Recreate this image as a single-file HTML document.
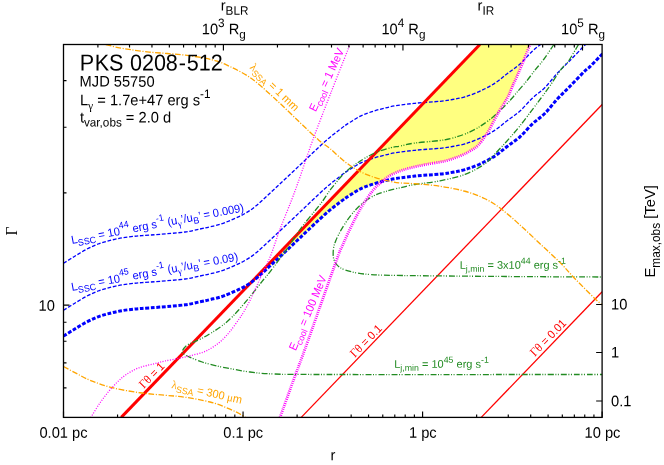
<!DOCTYPE html>
<html><head><meta charset="utf-8"><title>PKS 0208-512</title>
<style>
html,body{margin:0;padding:0;background:#fff;}
body{width:664px;height:465px;overflow:hidden;position:relative;font-family:"Liberation Sans",sans-serif;color:#000;}
svg{position:absolute;left:0;top:0;}
path{fill:none;}
.r3{stroke:#ff0000;stroke-width:3;}
.r1{stroke:#ff0000;stroke-width:1.3;}
.b1{stroke:#0000ff;stroke-width:1.3;stroke-dasharray:3.75 1.75;}
.b3{stroke:#0000ff;stroke-width:3;stroke-dasharray:3.8 1.7;}
.g1{stroke:#228b22;stroke-width:1.3;stroke-dasharray:6 1.5 1 1.5 1 2;}
.o1{stroke:#ffa500;stroke-width:1.3;stroke-dasharray:5.7 1.6 1.1 1.6;}
.m1{stroke:#ff00ff;stroke-width:1.3;stroke-dasharray:1 1.5;}
.m3{stroke:#ff00ff;stroke-width:2.8;stroke-dasharray:1 1.1;}
#tx{position:absolute;left:0;top:0;width:664px;height:465px;will-change:transform;}
.t{position:absolute;white-space:nowrap;line-height:1;font-size:14.67px;transform-origin:0 0;}
.t sub,.t sup{font-size:80%;line-height:0;position:relative;vertical-align:baseline;}
.t sub{top:0.375em;}
.t sup{top:-0.625em;}
.sy{font-family:"Liberation Serif",serif;}
</style></head><body>
<svg width="664" height="465" viewBox="0 0 664 465">
<defs><clipPath id="cp"><rect x="63.5" y="44.5" width="538.6" height="372.9"/></clipPath></defs>
<g clip-path="url(#cp)">
<path d="M252.10,281.36 L479.91,44.50 L530.00,44.50 C528.98,47.08 526.20,54.40 523.90,60.00 C521.60,65.60 518.02,73.93 516.20,78.10 C514.38,82.27 514.48,81.68 513.00,85.00 C511.52,88.32 509.85,93.22 507.30,98.00 C504.75,102.78 500.90,108.08 497.70,113.70 C494.50,119.32 491.32,126.48 488.10,131.70 C484.88,136.92 481.42,141.78 478.40,145.00 C475.38,148.22 473.07,149.17 470.00,151.00 C466.93,152.83 464.17,154.33 460.00,156.00 C455.83,157.67 450.83,159.57 445.00,161.00 C439.17,162.43 430.83,163.43 425.00,164.60 C419.17,165.77 414.17,166.93 410.00,168.00 C405.83,169.07 403.33,169.75 400.00,171.00 C396.67,172.25 393.08,173.65 390.00,175.50 C386.92,177.35 382.92,180.98 381.50,182.08 C378.75,182.88 370.25,184.73 365.00,186.90 C359.75,189.07 354.17,192.55 350.00,195.10 C345.83,197.65 344.17,199.00 340.00,202.20 C335.83,205.40 331.67,208.37 325.00,214.30 C318.33,220.23 308.33,229.97 300.00,237.80 C291.67,245.63 282.98,254.04 275.00,261.30 C267.02,268.56 255.92,278.01 252.10,281.36 Z" style="fill:#ffff80;stroke:none"/>
<path class="b1" d="M63.50,263.30 C65.25,262.20 70.23,259.00 74.00,256.70 C77.77,254.40 82.08,251.62 86.10,249.50 C90.12,247.38 94.08,245.52 98.10,244.00 C102.12,242.48 106.18,241.43 110.20,240.40 C114.22,239.37 118.18,238.48 122.20,237.80 C126.22,237.12 131.00,236.67 134.30,236.30 C137.60,235.93 137.72,235.93 142.00,235.60 C146.28,235.27 152.83,234.90 160.00,234.30 C167.17,233.70 178.33,232.88 185.00,232.00 C191.67,231.12 195.83,229.87 200.00,229.00 C204.17,228.13 205.83,227.87 210.00,226.80 C214.17,225.73 218.33,225.33 225.00,222.60 C231.67,219.87 241.67,216.08 250.00,210.40 C258.33,204.72 266.67,196.07 275.00,188.50 C283.33,180.93 291.67,172.83 300.00,165.00 C308.33,157.17 318.33,147.43 325.00,141.50 C331.67,135.57 335.83,132.60 340.00,129.40 C344.17,126.20 345.83,124.85 350.00,122.30 C354.17,119.75 358.33,116.68 365.00,114.10 C371.67,111.52 381.67,108.60 390.00,106.80 C398.33,105.00 406.67,104.22 415.00,103.30 C423.33,102.38 433.75,101.93 440.00,101.30 C446.25,100.67 448.33,100.25 452.50,99.50 C456.67,98.75 460.42,98.18 465.00,96.80 C469.58,95.42 475.00,93.48 480.00,91.20 C485.00,88.92 490.42,86.07 495.00,83.10 C499.58,80.13 503.33,76.58 507.50,73.40 C511.67,70.22 515.83,67.73 520.00,64.00 C524.17,60.27 528.33,54.92 532.50,51.00 C536.67,47.08 540.83,44.67 545.00,40.50 C549.17,36.33 553.33,30.50 557.50,26.00 C561.67,21.50 565.42,18.17 570.00,13.50 C574.58,8.83 581.67,1.29 585.00,-2.00 C588.33,-5.29 587.08,-3.42 590.00,-6.25 C592.92,-9.08 600.42,-16.88 602.50,-19.00" />
<path class="b1" d="M63.50,310.30 C65.25,309.20 70.23,306.00 74.00,303.70 C77.77,301.40 82.08,298.62 86.10,296.50 C90.12,294.38 94.08,292.52 98.10,291.00 C102.12,289.48 106.18,288.43 110.20,287.40 C114.22,286.37 118.18,285.48 122.20,284.80 C126.22,284.12 131.00,283.67 134.30,283.30 C137.60,282.93 137.72,282.93 142.00,282.60 C146.28,282.27 152.83,281.90 160.00,281.30 C167.17,280.70 178.33,279.88 185.00,279.00 C191.67,278.12 195.83,276.87 200.00,276.00 C204.17,275.13 205.83,274.87 210.00,273.80 C214.17,272.73 218.33,272.33 225.00,269.60 C231.67,266.87 241.67,263.08 250.00,257.40 C258.33,251.72 266.67,243.07 275.00,235.50 C283.33,227.93 291.67,219.83 300.00,212.00 C308.33,204.17 318.33,194.43 325.00,188.50 C331.67,182.57 335.83,179.60 340.00,176.40 C344.17,173.20 345.83,171.85 350.00,169.30 C354.17,166.75 358.33,163.68 365.00,161.10 C371.67,158.52 381.67,155.60 390.00,153.80 C398.33,152.00 406.67,151.22 415.00,150.30 C423.33,149.38 433.75,148.93 440.00,148.30 C446.25,147.67 448.33,147.25 452.50,146.50 C456.67,145.75 460.42,145.18 465.00,143.80 C469.58,142.42 475.00,140.48 480.00,138.20 C485.00,135.92 490.42,133.07 495.00,130.10 C499.58,127.13 503.33,123.58 507.50,120.40 C511.67,117.22 515.83,114.73 520.00,111.00 C524.17,107.27 528.33,101.92 532.50,98.00 C536.67,94.08 540.83,91.67 545.00,87.50 C549.17,83.33 553.33,77.50 557.50,73.00 C561.67,68.50 565.42,65.17 570.00,60.50 C574.58,55.83 581.67,48.29 585.00,45.00 C588.33,41.71 587.08,43.58 590.00,40.75 C592.92,37.92 600.42,30.12 602.50,28.00" />
<path class="r1" d="M301.25,417.40 L602.15,104.55"/>
<path class="r1" d="M481.25,417.40 L602.15,291.70"/>
<path class="r3" d="M121.25,417.40 L479.91,44.50"/>
<path class="b3" d="M63.50,336.10 C65.25,335.00 70.23,331.80 74.00,329.50 C77.77,327.20 82.08,324.42 86.10,322.30 C90.12,320.18 94.08,318.32 98.10,316.80 C102.12,315.28 106.18,314.23 110.20,313.20 C114.22,312.17 118.18,311.28 122.20,310.60 C126.22,309.92 131.00,309.47 134.30,309.10 C137.60,308.73 137.72,308.73 142.00,308.40 C146.28,308.07 152.83,307.70 160.00,307.10 C167.17,306.50 178.33,305.68 185.00,304.80 C191.67,303.92 195.83,302.67 200.00,301.80 C204.17,300.93 205.83,300.67 210.00,299.60 C214.17,298.53 218.33,298.13 225.00,295.40 C231.67,292.67 241.67,288.88 250.00,283.20 C258.33,277.52 266.67,268.87 275.00,261.30 C283.33,253.73 291.67,245.63 300.00,237.80 C308.33,229.97 318.33,220.23 325.00,214.30 C331.67,208.37 335.83,205.40 340.00,202.20 C344.17,199.00 345.83,197.65 350.00,195.10 C354.17,192.55 358.33,189.48 365.00,186.90 C371.67,184.32 381.67,181.40 390.00,179.60 C398.33,177.80 406.67,177.02 415.00,176.10 C423.33,175.18 433.75,174.73 440.00,174.10 C446.25,173.47 448.33,173.05 452.50,172.30 C456.67,171.55 460.42,170.98 465.00,169.60 C469.58,168.22 475.00,166.28 480.00,164.00 C485.00,161.72 490.42,158.87 495.00,155.90 C499.58,152.93 503.33,149.38 507.50,146.20 C511.67,143.02 515.83,140.53 520.00,136.80 C524.17,133.07 528.33,127.72 532.50,123.80 C536.67,119.88 540.83,117.47 545.00,113.30 C549.17,109.13 553.33,103.30 557.50,98.80 C561.67,94.30 565.42,90.97 570.00,86.30 C574.58,81.63 581.67,74.09 585.00,70.80 C588.33,67.51 587.08,69.38 590.00,66.55 C592.92,63.72 600.42,55.92 602.50,53.80" />
<path class="g1" d="M553.90,44.50 C552.13,47.08 546.42,55.77 543.30,60.00 C540.18,64.23 538.07,66.28 535.20,69.90 C532.33,73.52 529.12,78.00 526.10,81.70 C523.08,85.40 519.42,89.38 517.10,92.10 C514.78,94.82 514.03,95.92 512.20,98.00 C510.37,100.08 509.12,101.58 506.10,104.60 C503.08,107.62 498.12,112.68 494.10,116.10 C490.08,119.52 486.02,122.47 482.00,125.10 C477.98,127.73 474.50,129.85 470.00,131.90 C465.50,133.95 460.00,135.97 455.00,137.40 C450.00,138.83 446.67,139.57 440.00,140.50 C433.33,141.43 421.67,142.07 415.00,143.00 C408.33,143.93 404.10,145.30 400.00,146.10 C395.90,146.90 394.52,146.68 390.40,147.80 C386.28,148.92 380.33,150.58 375.30,152.80 C370.27,155.02 365.22,157.83 360.20,161.10 C355.18,164.37 350.17,167.63 345.20,172.40 C340.23,177.17 334.03,185.10 330.40,189.70 C326.77,194.30 325.87,196.62 323.40,200.00 C320.93,203.38 319.07,205.68 315.60,210.00 C312.13,214.32 305.90,221.55 302.60,225.90 C299.30,230.25 297.93,232.98 295.80,236.10 C293.67,239.22 291.62,241.98 289.80,244.60 C287.98,247.22 288.20,247.27 284.90,251.80 C281.60,256.33 273.77,266.90 270.00,271.80 C266.23,276.70 265.60,277.10 262.30,281.20 C259.00,285.30 254.22,291.52 250.20,296.40 C246.18,301.28 241.53,306.77 238.20,310.50 C234.87,314.23 233.05,316.13 230.20,318.80 C227.35,321.47 224.12,324.23 221.10,326.50 C218.08,328.77 215.10,330.53 212.10,332.40 C209.10,334.27 206.12,336.10 203.10,337.70 C200.08,339.30 196.77,340.68 194.00,342.00 C191.23,343.32 188.45,344.05 186.50,345.60 C184.55,347.15 182.70,349.85 182.30,351.30 C181.90,352.75 182.80,353.28 184.10,354.30 C185.40,355.32 187.08,356.12 190.10,357.40 C193.12,358.68 198.18,360.67 202.20,362.00 C206.22,363.33 210.18,364.42 214.20,365.40 C218.22,366.38 220.33,366.80 226.30,367.90 C232.27,369.00 241.88,370.98 250.00,372.00 C258.12,373.02 262.33,373.58 275.00,374.00 C287.67,374.42 271.42,374.42 326.00,374.50 C380.58,374.58 556.42,374.50 602.50,374.50" />
<path class="g1" d="M578.50,44.50 C576.90,47.17 571.25,57.02 568.90,60.50 C566.55,63.98 566.20,63.23 564.40,65.40 C562.60,67.57 560.58,69.98 558.10,73.50 C555.62,77.02 552.33,82.42 549.50,86.50 C546.67,90.58 544.32,93.67 541.10,98.00 C537.88,102.33 534.02,107.48 530.20,112.50 C526.38,117.52 522.22,123.18 518.20,128.10 C514.18,133.02 509.72,137.98 506.10,142.00 C502.48,146.02 500.02,148.57 496.50,152.20 C492.98,155.82 490.25,160.05 485.00,163.75 C479.75,167.45 472.50,171.56 465.00,174.40 C457.50,177.24 448.33,179.12 440.00,180.80 C431.67,182.48 421.67,183.33 415.00,184.50 C408.33,185.67 404.95,186.63 400.00,187.80 C395.05,188.97 389.75,190.13 385.30,191.50 C380.85,192.87 377.32,193.87 373.30,196.00 C369.28,198.13 364.97,201.03 361.20,204.30 C357.43,207.57 353.97,211.45 350.70,215.60 C347.43,219.75 344.12,224.93 341.60,229.20 C339.08,233.47 336.98,237.70 335.60,241.20 C334.22,244.70 333.55,247.07 333.30,250.20 C333.05,253.33 332.98,257.12 334.10,260.00 C335.22,262.88 336.93,265.50 340.00,267.50 C343.07,269.50 347.50,270.83 352.50,272.00 C357.50,273.17 361.67,273.92 370.00,274.50 C378.33,275.08 379.83,275.17 402.50,275.50 C425.17,275.83 472.67,276.25 506.00,276.50 C539.33,276.75 586.42,276.92 602.50,277.00" />
<path class="o1" d="M105.80,44.50 C107.83,45.02 113.77,46.73 118.00,47.60 C122.23,48.48 126.00,49.00 131.20,49.75 C136.40,50.50 143.18,51.48 149.20,52.10 C155.22,52.73 161.27,52.98 167.30,53.50 C173.33,54.02 179.37,54.47 185.40,55.20 C191.43,55.93 198.57,57.00 203.50,57.90 C208.43,58.80 211.42,59.55 215.00,60.60 C218.58,61.65 219.17,61.38 225.00,64.20 C230.83,67.02 241.67,71.74 250.00,77.50 C258.33,83.26 266.67,91.23 275.00,98.75 C283.33,106.27 292.70,115.69 300.00,122.60 C307.30,129.51 313.78,135.85 318.80,140.20 C323.82,144.55 325.70,145.07 330.10,148.70 C334.50,152.33 340.18,158.18 345.20,162.00 C350.22,165.82 355.18,168.98 360.20,171.60 C365.22,174.22 370.27,176.07 375.30,177.70 C380.33,179.33 386.28,180.53 390.40,181.40 C394.52,182.27 395.90,182.51 400.00,182.90 C404.10,183.29 408.33,183.19 415.00,183.75 C421.67,184.31 431.67,185.00 440.00,186.25 C448.33,187.50 457.50,189.17 465.00,191.25 C472.50,193.33 479.00,195.83 485.00,198.75 C491.00,201.67 495.17,204.38 501.00,208.75 C506.83,213.12 513.50,219.17 520.00,225.00 C526.50,230.83 533.33,237.50 540.00,243.75 C546.67,250.00 554.17,256.67 560.00,262.50 C565.83,268.33 569.17,272.71 575.00,278.75 C580.83,284.79 590.42,294.38 595.00,298.75 C599.58,303.12 601.25,303.96 602.50,305.00" />
<path class="o1" d="M63.50,366.50 C65.83,367.75 73.08,371.71 77.50,374.00 C81.92,376.29 84.17,377.96 90.00,380.25 C95.83,382.54 104.17,385.67 112.50,387.75 C120.83,389.83 131.25,391.50 140.00,392.75 C148.75,394.00 157.50,394.51 165.00,395.25 C172.50,395.99 177.50,396.07 185.00,397.20 C192.50,398.32 203.33,400.35 210.00,402.00 C216.67,403.65 220.42,405.32 225.00,407.10 C229.58,408.88 234.07,410.97 237.50,412.70 C240.93,414.43 244.25,416.70 245.60,417.50" />
<path class="m1" d="M90.80,417.50 C92.35,415.03 96.80,407.42 100.10,402.70 C103.40,397.98 106.83,393.45 110.60,389.20 C114.37,384.95 118.68,380.47 122.70,377.20 C126.72,373.93 130.95,371.48 134.70,369.60 C138.45,367.72 141.68,366.93 145.20,365.90 C148.72,364.87 152.50,364.22 155.80,363.40 C159.10,362.58 161.30,361.82 165.00,361.00 C168.70,360.18 173.83,359.37 178.00,358.50 C182.17,357.63 185.82,356.85 190.00,355.80 C194.18,354.75 199.42,353.57 203.10,352.20 C206.78,350.83 209.10,349.47 212.10,347.60 C215.10,345.73 218.08,343.73 221.10,341.00 C224.12,338.27 227.18,334.90 230.20,331.20 C233.22,327.50 236.95,322.00 239.20,318.80 C241.45,315.60 241.87,315.12 243.70,312.00 C245.53,308.88 248.10,304.28 250.20,300.10 C252.30,295.92 254.28,291.32 256.30,286.90 C258.32,282.48 259.93,278.75 262.30,273.60 C264.67,268.45 267.53,263.45 270.50,256.00 C273.47,248.55 276.58,238.23 280.10,228.90 C283.62,219.57 288.28,208.65 291.60,200.00 C294.92,191.35 296.47,187.00 300.00,177.00 C303.53,167.00 307.80,153.67 312.80,140.00 C317.80,126.33 323.80,110.92 330.00,95.00 C336.20,79.08 346.67,52.92 350.00,44.50" />
<path class="m3" d="M280.00,417.50 C282.50,410.58 290.83,387.42 295.00,376.00 C299.17,364.58 298.07,368.33 305.00,349.00 C311.93,329.67 330.37,277.22 336.60,260.00 C342.83,242.78 340.30,250.58 342.40,245.70 C344.50,240.82 346.82,235.72 349.20,230.70 C351.58,225.68 354.20,220.25 356.70,215.60 C359.20,210.95 361.43,207.07 364.20,202.80 C366.97,198.53 370.45,193.43 373.30,190.00 C376.15,186.57 378.52,184.62 381.30,182.20 C384.08,179.78 386.88,177.37 390.00,175.50 C393.12,173.63 396.67,172.25 400.00,171.00 C403.33,169.75 405.83,169.07 410.00,168.00 C414.17,166.93 419.17,165.77 425.00,164.60 C430.83,163.43 439.17,162.43 445.00,161.00 C450.83,159.57 455.83,157.67 460.00,156.00 C464.17,154.33 466.93,152.83 470.00,151.00 C473.07,149.17 475.38,148.22 478.40,145.00 C481.42,141.78 484.88,136.92 488.10,131.70 C491.32,126.48 494.50,119.32 497.70,113.70 C500.90,108.08 504.75,102.78 507.30,98.00 C509.85,93.22 511.52,88.32 513.00,85.00 C514.48,81.68 514.38,82.27 516.20,78.10 C518.02,73.93 521.60,65.60 523.90,60.00 C526.20,54.40 528.98,47.08 530.00,44.50" />
</g>
<path d="M63.50,417.40 L63.50,411.40 M117.55,417.40 L117.55,414.40 M149.17,417.40 L149.17,414.40 M171.60,417.40 L171.60,414.40 M189.00,417.40 L189.00,414.40 M203.22,417.40 L203.22,414.40 M215.24,417.40 L215.24,414.40 M225.65,417.40 L225.65,414.40 M234.83,417.40 L234.83,414.40 M243.05,417.40 L243.05,411.40 M297.10,417.40 L297.10,414.40 M328.72,417.40 L328.72,414.40 M351.15,417.40 L351.15,414.40 M368.55,417.40 L368.55,414.40 M382.77,417.40 L382.77,414.40 M394.79,417.40 L394.79,414.40 M405.20,417.40 L405.20,414.40 M414.38,417.40 L414.38,414.40 M422.60,417.40 L422.60,411.40 M476.65,417.40 L476.65,414.40 M508.27,417.40 L508.27,414.40 M530.70,417.40 L530.70,414.40 M548.10,417.40 L548.10,414.40 M562.32,417.40 L562.32,414.40 M574.34,417.40 L574.34,414.40 M584.75,417.40 L584.75,414.40 M593.93,417.40 L593.93,414.40 M602.15,417.40 L602.15,411.40 M97.90,44.50 L97.90,47.50 M129.52,44.50 L129.52,47.50 M151.95,44.50 L151.95,47.50 M169.35,44.50 L169.35,47.50 M183.57,44.50 L183.57,47.50 M195.59,44.50 L195.59,47.50 M206.00,44.50 L206.00,47.50 M215.18,44.50 L215.18,47.50 M223.40,44.50 L223.40,50.50 M277.45,44.50 L277.45,47.50 M309.07,44.50 L309.07,47.50 M331.50,44.50 L331.50,47.50 M348.90,44.50 L348.90,47.50 M363.12,44.50 L363.12,47.50 M375.14,44.50 L375.14,47.50 M385.55,44.50 L385.55,47.50 M394.73,44.50 L394.73,47.50 M402.95,44.50 L402.95,50.50 M457.00,44.50 L457.00,47.50 M488.62,44.50 L488.62,47.50 M511.05,44.50 L511.05,47.50 M528.45,44.50 L528.45,47.50 M542.67,44.50 L542.67,47.50 M554.69,44.50 L554.69,47.50 M565.10,44.50 L565.10,47.50 M574.28,44.50 L574.28,47.50 M582.50,44.50 L582.50,50.50 M63.50,387.87 L66.50,387.87 M63.50,362.91 L66.50,362.91 M63.50,341.28 L66.50,341.28 M63.50,322.21 L66.50,322.21 M63.50,305.15 L69.50,305.15 M63.50,192.89 L66.50,192.89 M63.50,127.23 L66.50,127.23 M63.50,80.64 L66.50,80.64 M602.15,304.50 L596.15,304.50 M602.15,352.50 L596.15,352.50 M602.15,401.00 L596.15,401.00" style="stroke:#000;stroke-width:1.15"/>
<rect x="63.5" y="44.5" width="538.6" height="372.9" fill="none" stroke="#000" stroke-width="1.3"/>
</svg>
<div id="tx">
<div class="t " style="left:220px;top:-2px;font-size:14.67px;transform-origin:0 12.00px;transform:translate(0.70px,0.60px) rotate(0.03deg) scaleY(1.040);">r<sub>BLR</sub></div>
<div class="t " style="left:223px;top:22px;font-size:14.67px;transform-origin:0 12.00px;transform:translate(0.80px,0.30px) rotate(0.03deg) translateX(-50%) scaleY(1.040);">10<sup>3</sup> R<sub>g</sub></div>
<div class="t " style="left:477px;top:-2px;font-size:14.67px;transform-origin:0 12.00px;transform:translate(0.50px,0.60px) rotate(0.03deg) scaleY(1.040);">r<sub>IR</sub></div>
<div class="t " style="left:403px;top:22px;font-size:14.67px;transform-origin:0 12.00px;transform:translate(0.40px,0.30px) rotate(0.03deg) translateX(-50%) scaleY(1.040);">10<sup>4</sup> R<sub>g</sub></div>
<div class="t " style="left:583px;top:22px;font-size:14.67px;transform-origin:0 12.00px;transform:translate(0.00px,0.30px) rotate(0.03deg) translateX(-50%) scaleY(1.040);">10<sup>5</sup> R<sub>g</sub></div>
<div class="t " style="left:79px;top:52px;font-size:21.55px;transform-origin:0 18.00px;transform:translate(0.80px,0.55px) rotate(0.03deg) scaleY(1.070);"><span style="letter-spacing:0.5px">P</span>K<span style="letter-spacing:0.5px">S</span> 0208<span style="margin:0 0.9px">-</span>512</div>
<div class="t " style="left:79px;top:74px;font-size:14.67px;transform-origin:0 12.00px;transform:translate(0.60px,0.60px) rotate(0.03deg) scaleY(1.040);">MJD 55750</div>
<div class="t " style="left:79px;top:93px;font-size:14.67px;transform-origin:0 12.00px;transform:translate(0.90px,0.30px) rotate(0.03deg) scaleY(1.040);">L<sub><span class="sy">γ</span></sub> = 1.7e+47 erg s<sup>-1</sup></div>
<div class="t " style="left:79px;top:110px;font-size:14.67px;transform-origin:0 12.00px;transform:translate(0.90px,0.40px) rotate(0.03deg) scaleY(1.040);">t<sub>var,obs</sub> = 2.0 d</div>
<div class="t " style="left:63px;top:425px;font-size:14.67px;transform-origin:0 12.00px;transform:translate(0.50px,0.80px) rotate(0.03deg) translateX(-50%) scaleY(1.040);">0.01 pc</div>
<div class="t " style="left:243px;top:425px;font-size:14.67px;transform-origin:0 12.00px;transform:translate(0.20px,0.80px) rotate(0.03deg) translateX(-50%) scaleY(1.040);">0.1 pc</div>
<div class="t " style="left:422px;top:425px;font-size:14.67px;transform-origin:0 12.00px;transform:translate(0.80px,0.80px) rotate(0.03deg) translateX(-50%) scaleY(1.040);">1 pc</div>
<div class="t " style="left:602px;top:425px;font-size:14.67px;transform-origin:0 12.00px;transform:translate(0.50px,0.80px) rotate(0.03deg) translateX(-50%) scaleY(1.040);">10 pc</div>
<div class="t " style="left:333px;top:448px;font-size:14.67px;transform-origin:0 12.00px;transform:translate(0.00px,0.20px) rotate(0.03deg) translateX(-50%) scaleY(1.040);">r</div>
<div class="t " style="left:54px;top:298px;font-size:14.67px;transform-origin:0 12.00px;transform:translate(0.80px,0.80px) rotate(0.03deg) translateX(-100%) scaleY(1.040);">10</div>
<div class="t " style="left:16.40px;top:222.78px;font-size:14.67px;transform-origin:0 12.42px;transform:rotate(-90.00deg) scaleY(1.040);"><span class="sy" style="font-size:106%">Γ</span></div>
<div class="t " style="left:611px;top:297px;font-size:14.67px;transform-origin:0 12.00px;transform:translate(0.00px,0.60px) rotate(0.03deg) scaleY(1.040);">10</div>
<div class="t " style="left:611px;top:345px;font-size:14.67px;transform-origin:0 12.00px;transform:translate(0.00px,0.60px) rotate(0.03deg) scaleY(1.040);">1</div>
<div class="t " style="left:611px;top:394px;font-size:14.67px;transform-origin:0 12.00px;transform:translate(0.00px,0.20px) rotate(0.03deg) scaleY(1.040);">0.1</div>
<div class="t " style="left:655.60px;top:265.27px;font-size:14.80px;transform-origin:0 12.53px;transform:rotate(-90.00deg) scaleY(1.040);">E<sub>max,obs</sub> [TeV]</div>
<div class="t " style="color:#0000ff;left:72.10px;top:235.10px;font-size:11.10px;transform-origin:0 9.40px;transform:rotate(-10.70deg) scaleY(1.040);">L<sub>SSC</sub> = 10<sup>44</sup> erg s<sup>-1</sup> (u<sub><span class="sy">γ</span></sub>’/u<sub>B</sub>’ = 0.009)</div>
<div class="t " style="color:#0000ff;left:72.10px;top:282.00px;font-size:11.10px;transform-origin:0 9.40px;transform:rotate(-10.40deg) scaleY(1.040);">L<sub>SSC</sub> = 10<sup>45</sup> erg s<sup>-1</sup> (u<sub><span class="sy">γ</span></sub>’/u<sub>B</sub>’ = 0.09)</div>
<div class="t " style="color:#ffa500;left:248.60px;top:59.49px;font-size:11.00px;transform-origin:0 9.31px;transform:rotate(44.00deg) scaleY(1.040);"><span class="sy">λ</span><sub>SSA</sub> = 1 mm</div>
<div class="t " style="color:#ffa500;left:171.30px;top:378.59px;font-size:11.00px;transform-origin:0 9.31px;transform:rotate(12.60deg) scaleY(1.040);"><span class="sy">λ</span><sub>SSA</sub> = 300 <span class="sy">μ</span>m</div>
<div class="t " style="color:#ff00ff;left:315.90px;top:102.59px;font-size:11.00px;transform-origin:0 9.31px;transform:rotate(-65.00deg) scaleY(1.040);">E<sub>cool</sub> = 1 MeV</div>
<div class="t " style="color:#ff00ff;left:296.20px;top:342.09px;font-size:11.00px;transform-origin:0 9.31px;transform:rotate(-67.00deg) scaleY(1.040);">E<sub>cool</sub> = 100 MeV</div>
<div class="t " style="color:#ff0000;left:144.00px;top:379.69px;font-size:11.00px;transform-origin:0 9.31px;transform:rotate(-46.00deg) scaleY(1.040);"><span class="sy" style="font-size:106%">Γθ</span> = 1</div>
<div class="t " style="color:#ff0000;left:355.10px;top:348.59px;font-size:11.00px;transform-origin:0 9.31px;transform:rotate(-46.00deg) scaleY(1.040);"><span class="sy" style="font-size:106%">Γθ</span> = 0.1</div>
<div class="t " style="color:#ff0000;left:534.90px;top:348.29px;font-size:11.00px;transform-origin:0 9.31px;transform:rotate(-46.00deg) scaleY(1.040);"><span class="sy" style="font-size:106%">Γθ</span> = 0.01</div>
<div class="t " style="color:#228b22;left:394px;top:358px;font-size:11.00px;transform-origin:0 9.00px;transform:translate(0.20px,0.70px) rotate(0.03deg);">L<sub>j,min</sub> = 10<sup>45</sup> erg s<sup>-1</sup></div>
<div class="t " style="color:#228b22;left:459px;top:259px;font-size:11.00px;transform-origin:0 9.00px;transform:translate(0.70px,0.70px) rotate(0.03deg);">L<sub>j,min</sub> = 3x10<sup>44</sup> erg s<sup>-1</sup></div>
</div>
</body></html>
